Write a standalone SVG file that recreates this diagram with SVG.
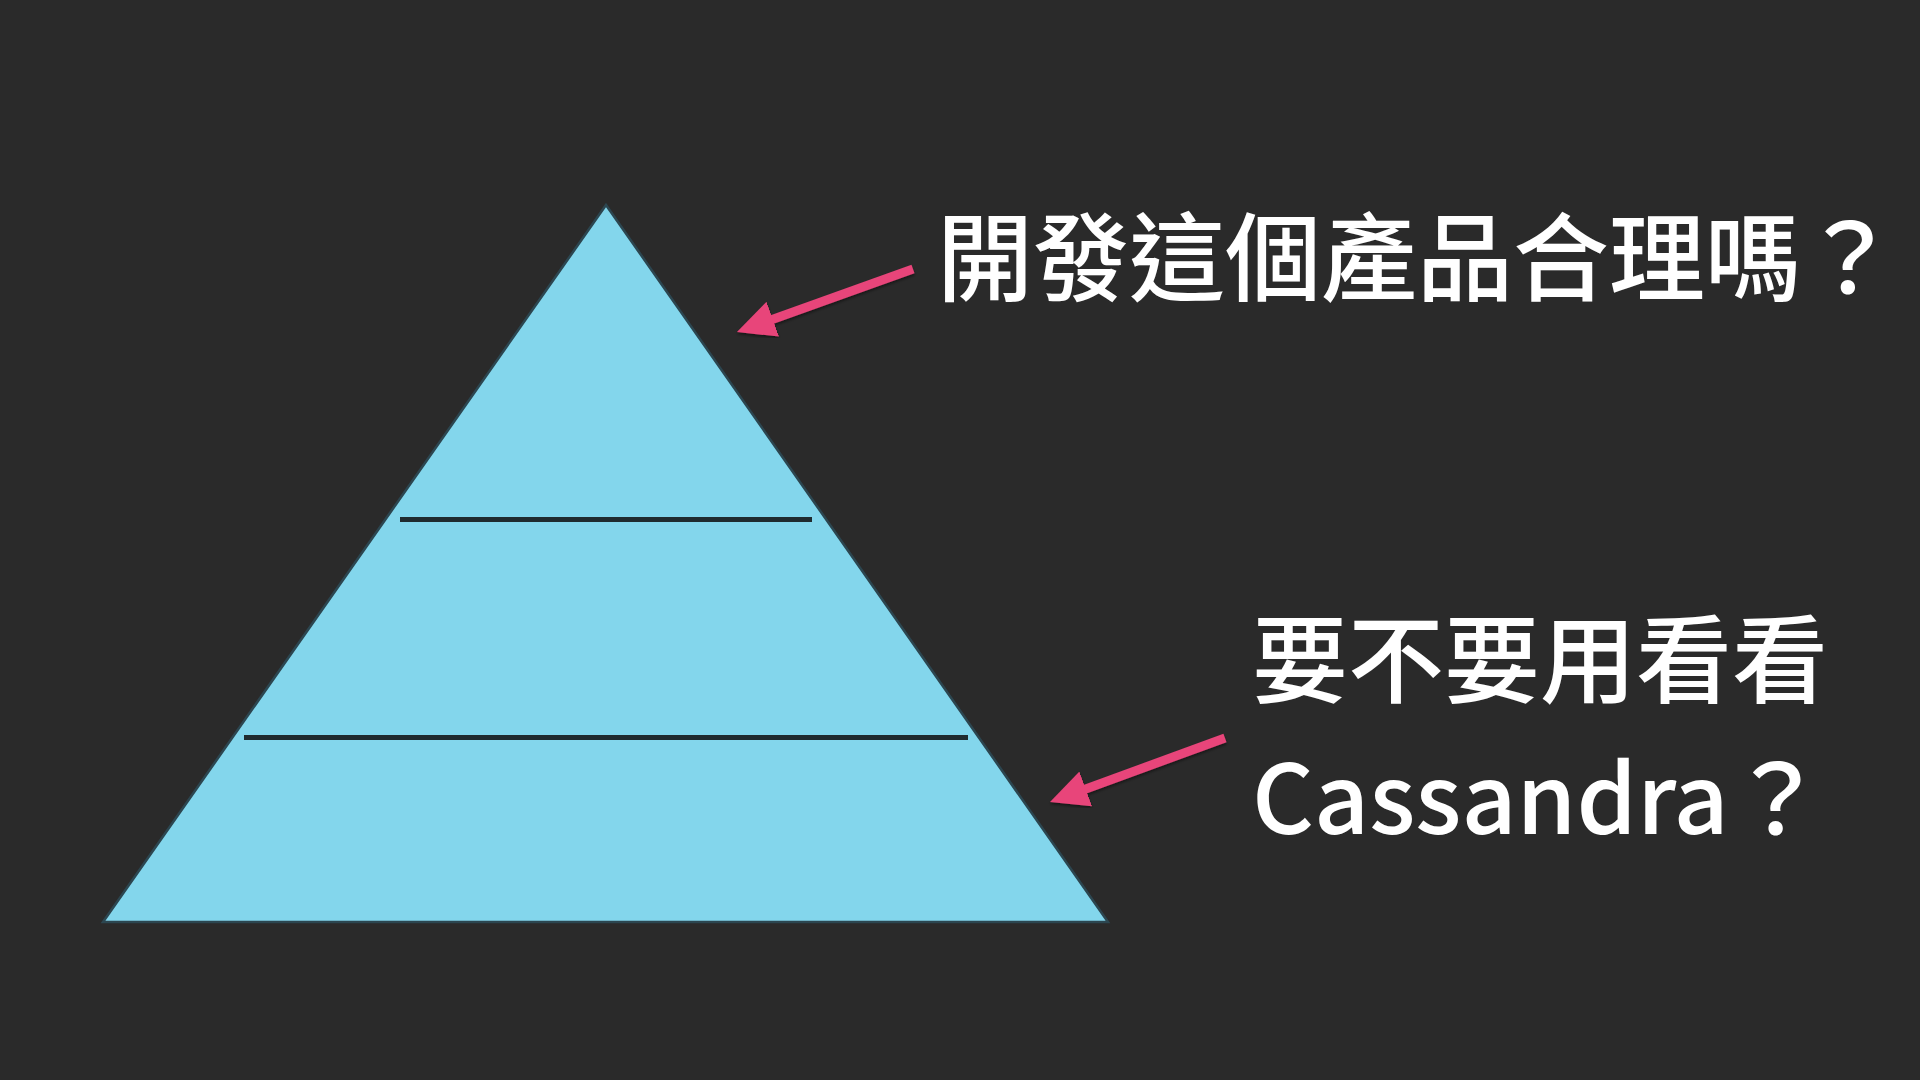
<svg xmlns="http://www.w3.org/2000/svg" width="1920" height="1080" viewBox="0 0 1920 1080">
  <style>
    .bg { fill: #2a2a2a; }
    .pyramid { fill: #83d6ec; stroke: #2c4650; stroke-width: 2.5; stroke-linejoin: miter; }
    .divider { stroke: #1f2b2f; stroke-width: 5; }
    .arrow { stroke: #e8457a; stroke-width: 9; fill: none; marker-end: url(#head); filter: url(#shadow); }
    .label { fill: #ffffff; font-family: "Noto Sans CJK TC", "Noto Sans CJK SC", "Noto Sans", sans-serif; font-size: 96px; font-weight: 500; }
  </style>
  <defs>
    <marker id="head" markerUnits="userSpaceOnUse" markerWidth="38" markerHeight="37" viewBox="0 0 38 37" refX="8" refY="18.5" orient="auto">
      <path d="M0,0 L38,18.5 L0,37 Z" fill="#e8457a"/>
    </marker>
    <filter id="shadow" x="-20%" y="-30%" width="140%" height="160%">
      <feDropShadow dx="0" dy="2" stdDeviation="1.5" flood-color="#000000" flood-opacity="0.45"/>
    </filter>
  </defs>
  <rect class="bg" x="0" y="0" width="1920" height="1080"/>
  <g id="pyramid">
    <polygon class="pyramid" points="606,205 1108,922 103,922"/>
    <line class="divider" x1="400" y1="519.5" x2="812" y2="519.5"/>
    <line class="divider" x1="244" y1="737.5" x2="968" y2="737.5"/>
  </g>
  <g id="connectors">
    <line class="arrow" x1="913" y1="269" x2="765.2" y2="321.9"/>
    <line class="arrow" x1="1225" y1="738" x2="1078.2" y2="791.7"/>
  </g>
  <g id="label-top">
    <text class="label" x="937" y="293">開發這個產品合理嗎？</text>
  </g>
  <g id="label-bottom">
    <text class="label" x="1252" y="695">要不要用看看</text>
    <text class="label" x="1252" y="834">Cassandra？</text>
  </g>
</svg>
